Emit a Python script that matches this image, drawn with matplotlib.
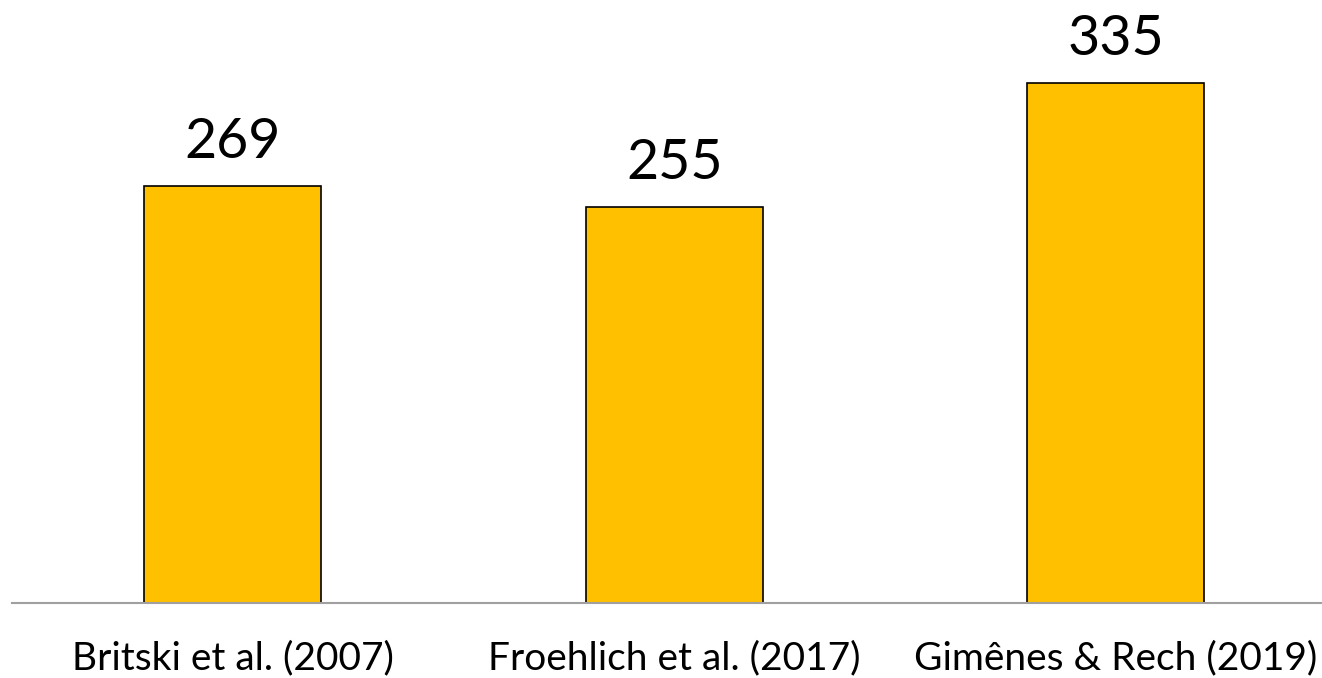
import matplotlib
matplotlib.use("Agg")
import matplotlib.pyplot as plt

studies = ["Britski et al. (2007)", "Froehlich et al. (2017)", "Gimênes & Rech (2019)"]
counts = [269, 255, 335]

plt.rcParams['font.family'] = ['Lato', 'DejaVu Sans']

fig = plt.figure(figsize=(13.22, 6.78), dpi=100)
# axes placed so the baseline sits near the bottom and spans the full width
ax = fig.add_axes([12 / 1322, 75 / 678, 1324.5 / 1322, 543 / 678])

x = range(len(studies))
bars = ax.bar(x, counts, width=0.4, color="#FFC000", edgecolor="black", linewidth=1.2)

for b, v in zip(bars, counts):
    ax.annotate(str(v), (b.get_x() + b.get_width() / 2, v),
                xytext=(0, 13), textcoords="offset points",
                ha="center", va="bottom", fontsize=40)

ax.set_xlim(-0.5, 2.5)
ax.set_ylim(0, 350)
ax.set_xticks(list(x))
ax.set_xticklabels(studies, fontsize=28)
ax.tick_params(axis="x", length=0, pad=27)
ax.set_yticks([])
for s in ["top", "right", "left"]:
    ax.spines[s].set_visible(False)
ax.spines["bottom"].set_color("#A0A0A0")
ax.spines["bottom"].set_linewidth(1.5)

fig.savefig("out.png", dpi=100)
